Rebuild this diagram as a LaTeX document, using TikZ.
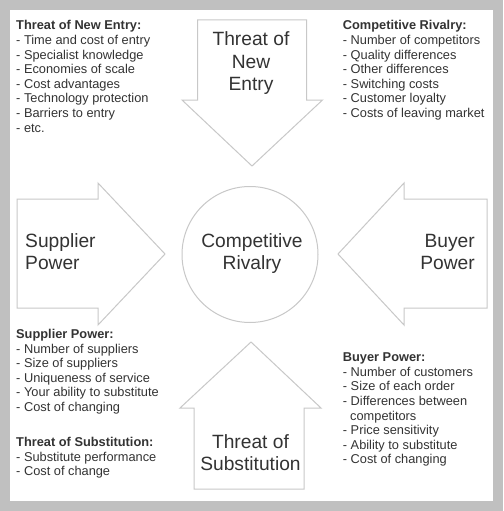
\documentclass[tikz,border=0pt]{standalone}
\usepackage{fontspec}
\setmainfont{Liberation Sans}
\definecolor{bgc}{HTML}{C0C0C0}
\definecolor{lnc}{HTML}{C8C8C8}
\definecolor{txc}{HTML}{333333}
\newcommand\LeftLines[1]{\vtop{\halign{##\hfil\cr#1\crcr}}}
\newcommand\MidLines[1]{\vtop{\halign{\hfil##\hfil\cr#1\crcr}}}
\newcommand\RightLines[1]{\vtop{\halign{\hfil##\cr#1\crcr}}}
\begin{document}
\begin{tikzpicture}[x=1pt,y=-1pt,
  arrowshape/.style={draw=lnc, line width=1pt, fill=white, line join=miter},
  big/.style={inner sep=0, text=txc, font=\fontsize{19.2}{22}\selectfont},
  list/.style={inner sep=0, text=txc, font=\fontsize{12.8}{14.6}\selectfont, anchor=base west}]
\fill[bgc] (0,0) rectangle (503,511);
\fill[white] (10,10) rectangle (493,501);
\useasboundingbox (0,0) rectangle (503,511);
% arrows
\draw[arrowshape] (197.5,20) -- (306.5,20) -- (306.5,100) -- (322.5,100) -- (252,166) -- (182,100) -- (197.5,100) -- cycle;
\draw[arrowshape] (17,199) -- (98,199) -- (98,183) -- (165,254) -- (98,325) -- (98,308) -- (17,308) -- cycle;
\draw[arrowshape] (487,199) -- (404,199) -- (404,183) -- (338,254) -- (404,325) -- (404,308) -- (487,308) -- cycle;
\draw[arrowshape] (194,489) -- (304,489) -- (304,408) -- (321,408) -- (251,342) -- (180,408) -- (194,408) -- cycle;
\draw[arrowshape] (250,254.5) circle[radius=68];
% big labels
\node[big, anchor=base] (tne) at (251,46) {\MidLines{Threat of\cr New\cr Entry}};
\node[big, anchor=base west] (sp) at (25,247) {\LeftLines{Supplier\cr Power}};
\node[big, anchor=base east] (bp) at (475,247) {\RightLines{Buyer\cr Power}};
\node[big, anchor=base] (cr) at (252,247) {\MidLines{Competitive\cr Rivalry}};
\node[big, anchor=base] (ts) at (250.5,448) {\MidLines{Threat of\cr Substitution}};
% lists
\node[list] (l1) at (16,30) {\LeftLines{\bfseries Threat of New Entry:\cr
- Time and cost of entry\cr
- Specialist knowledge\cr
- Economies of scale\cr
- Cost advantages\cr
- Technology protection\cr
- Barriers to entry\cr
- etc.}};
\node[list] (l2) at (342.7,30) {\LeftLines{\bfseries Competitive Rivalry:\cr
- Number of competitors\cr
- Quality differences\cr
- Other differences\cr
- Switching costs\cr
- Customer loyalty\cr
- Costs of leaving market}};
\node[list] (l3) at (16,338.5) {\LeftLines{\bfseries Supplier Power:\cr
- Number of suppliers\cr
- Size of suppliers\cr
- Uniqueness of service\cr
- Your ability to substitute\cr
- Cost of changing}};
\node[list] (l4) at (16,446.7) {\LeftLines{\bfseries Threat of Substitution:\cr
- Substitute performance\cr
- Cost of change}};
\node[list] (l5) at (342.7,361.7) {\LeftLines{\bfseries Buyer Power:\cr
- Number of customers\cr
- Size of each order\cr
- Differences between\cr
\hspace{7.3pt}competitors\cr
- Price sensitivity\cr
- Ability to substitute\cr
- Cost of changing}};
\end{tikzpicture}
\end{document}
